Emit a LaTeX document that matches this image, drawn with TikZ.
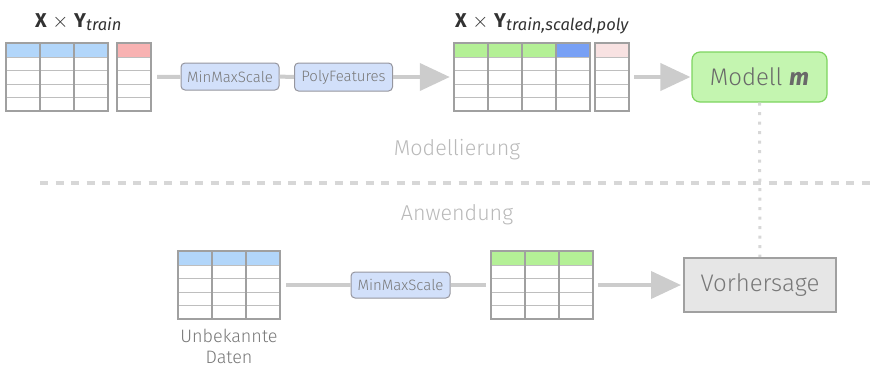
\documentclass[tikz,border=0pt]{standalone}
\usepackage{fontspec}
\setmainfont{Fira Sans}[UprightFont={* Light},ItalicFont={* Italic},BoldFont={* Bold},BoldItalicFont={* Bold Italic}]
\usetikzlibrary{calc,arrows,arrows.meta,positioning}
\tikzstyle{stepbox}=[draw=boxgray,fill=stepblue,rounded corners=4pt,line width=1pt,minimum width=98pt,minimum height=27pt,inner sep=0pt,text=txtgray,font=\fontsize{15}{18}\selectfont]
\tikzstyle{modelbox}=[draw=modelborder,fill=modelgreen,rounded corners=8pt,line width=1.2pt,minimum width=135pt,minimum height=50pt,inner sep=0pt,text=txtdark,font=\fontsize{24}{28}\selectfont]
\tikzstyle{predbox}=[draw=predborder,fill=predgray,line width=2pt,minimum width=152pt,minimum height=54pt,inner sep=0pt,text=txtgray,font=\fontsize{24}{28}\selectfont]
\tikzstyle{gridbox}=[rectangle,inner sep=0pt]
\tikzstyle{conn}=[draw=linegray,line width=4pt]
\tikzstyle{connarrow}=[conn,-{Triangle[length=30pt,width=27pt]}]
\tikzstyle{phase}=[text=phasegray,font=\fontsize{21.5}{25}\selectfont]
\tikzstyle{heading}=[anchor=base west,text=titlegray,font=\fontsize{20}{24}\selectfont,inner sep=0pt]
\definecolor{hblue}{RGB}{178,214,250}
\definecolor{hred}{RGB}{248,178,178}
\definecolor{hgreen}{RGB}{180,240,150}
\definecolor{hdeep}{RGB}{120,160,245}
\definecolor{hpink}{RGB}{248,226,226}
\definecolor{stepblue}{RGB}{210,224,250}
\definecolor{boxgray}{RGB}{150,150,158}
\definecolor{modelgreen}{RGB}{196,245,176}
\definecolor{modelborder}{RGB}{125,212,95}
\definecolor{predgray}{RGB}{230,230,230}
\definecolor{predborder}{RGB}{160,160,160}
\definecolor{linegray}{RGB}{204,204,204}
\definecolor{sepgray}{RGB}{215,215,215}
\definecolor{phasegray}{RGB}{185,185,185}
\definecolor{txtgray}{RGB}{120,120,120}
\definecolor{txtdark}{RGB}{105,105,105}
\definecolor{titlegray}{RGB}{50,50,50}
\definecolor{colline}{RGB}{160,160,160}
\definecolor{rowline}{RGB}{190,190,190}

\newcommand{\datagrid}[5]{%
  \node[gridbox,minimum width=#4*34pt,minimum height=68pt] (#1) at (#2+#4*17,#3+34) {};
  \foreach \c [count=\i from 0] in {#5} \fill[\c] (#2+\i*34,#3) rectangle ++(34,14);
  \foreach \r in {14,27.5,41,54.5} \draw[rowline,line width=1pt] (#2,#3+\r) -- ++(#4*34,0);
  \foreach \c [count=\i from 0] in {#5} \draw[colline,line width=1.4pt] (#2+\i*34,#3) rectangle ++(34,68);
}
\newcommand{\subtext}[1]{\raisebox{-3.5pt}{\fontsize{16.5}{18}\selectfont\mdseries\itshape #1}}

\begin{document}
\begin{tikzpicture}[x=1pt,y=-1pt]
\useasboundingbox (0,0) rectangle (872,368);
\draw (35,27) node [heading] (ttrain) {\textbf{X} $\times$ \textbf{Y}\subtext{train}};
\draw (455,27) node [heading] (tpoly) {\textbf{X} $\times$ \textbf{Y}\subtext{train,scaled,poly}};
\datagrid{xtrain}{6}{43}{3}{hblue,hblue,hblue}
\datagrid{ytrain}{117}{43}{1}{hred}
\datagrid{xpoly}{454}{43}{4}{hgreen,hgreen,hgreen,hdeep}
\datagrid{ypoly}{595}{43}{1}{hpink}
\draw (230,76.5) node [stepbox] (scale1) {MinMaxScale};
\draw (343.5,77) node [stepbox,minimum height=28pt] (poly) {PolyFeatures};
\draw (759.5,77) node [modelbox] (model) {Modell \textbf{\textit{m}}};
\draw[conn,shorten <=6pt] (ytrain) -- (scale1);
\draw[conn] (scale1) -- (poly);
\draw[connarrow,shorten >=4pt] (poly) -- (xpoly);
\draw[connarrow,shorten <=5pt,shorten >=1pt] (ypoly) -- (model);
\draw (457,150) node [phase] (lmod) {Modellierung};
\draw (457,215) node [phase] (lapp) {Anwendung};
\coordinate (sepl) at (40,183);
\coordinate (sepr) at (872,183);
\draw[sepgray,line width=3.5pt,dash pattern=on 8pt off 7.5pt] (sepl) -- (sepr);
\datagrid{xnew}{178}{251}{3}{hblue,hblue,hblue}
\datagrid{xnewscaled}{491}{251}{3}{hgreen,hgreen,hgreen}
\draw (400.5,285) node [stepbox,minimum height=26pt,minimum width=99pt] (scale2) {MinMaxScale};
\draw (760,285) node [predbox] (pred) {Vorhersage};
\draw[sepgray,line width=3pt,dash pattern=on 3pt off 6.5pt] (model) -- (pred);
\draw (pred) node [predbox] {Vorhersage};
\draw[conn,shorten <=6pt] (xnew) -- (scale2);
\draw[conn,shorten >=5pt] (scale2) -- (xnewscaled);
\draw[connarrow,shorten <=5pt,shorten >=2pt] (xnewscaled) -- (pred);
\node [below=6pt of xnew,align=center,text=txtgray,font=\fontsize{18}{21}\selectfont] (lnew) {Unbekannte\\Daten};
\end{tikzpicture}
\end{document}
